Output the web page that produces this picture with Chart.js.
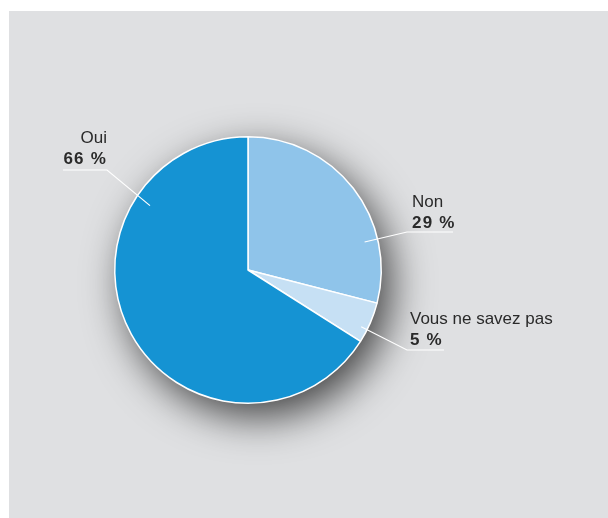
<!DOCTYPE html>
<html>
<head>
<meta charset="utf-8">
<script src="https://cdn.jsdelivr.net/npm/chart.js@4/dist/chart.umd.min.js"></script>
<style>
  html, body { margin: 0; padding: 0; background: #fff; }
  canvas { display: block; }
</style>
</head>
<body>
<canvas id="pie" width="608" height="518"></canvas>
<script>
const categories = ['Non', 'Vous ne savez pas', 'Oui'];
const percents = [29, 5, 66];
const sliceColors = ['#8fc4ea', '#c6e0f4', '#1593d3'];

// label placement: leader start (angle in deg, fraction of radius), elbow, end, text anchor
const labelLayout = [
  { a: -13.5, f: 0.90, elbow: [407, 232], end: [453, 232], tx: 412, ty: 207, align: 'left' },
  { a: 26.6, f: 0.95, elbow: [407, 350], end: [444, 350], tx: 410, ty: 324, align: 'left' },
  { a: -146.7, f: 0.88, elbow: [107, 170], end: [63, 170], tx: 107, ty: 143, align: 'right' }
];

const panel = {
  id: 'panel',
  beforeDraw(chart) {
    const ctx = chart.ctx;
    ctx.save();
    ctx.fillStyle = '#dfe0e2';
    ctx.fillRect(9, 11, chart.width - 9, chart.height - 11);
    ctx.restore();
  },
  beforeDatasetsDraw(chart) {
    // soft drop shadow under the pie
    const arc = chart.getDatasetMeta(0).data[0];
    const ctx = chart.ctx;
    ctx.save();
    ctx.shadowColor = 'rgba(0,0,0,0.7)';
    ctx.shadowBlur = 40;
    ctx.shadowOffsetX = 10;
    ctx.shadowOffsetY = 14;
    ctx.fillStyle = '#888';
    ctx.beginPath();
    ctx.arc(arc.x, arc.y, arc.outerRadius, 0, Math.PI * 2);
    ctx.fill();
    ctx.restore();
  },
  afterDatasetsDraw(chart) {
    const arc = chart.getDatasetMeta(0).data[0];
    const ctx = chart.ctx;
    ctx.save();
    labelLayout.forEach((l, i) => {
      const ang = l.a * Math.PI / 180;
      const sx = arc.x + Math.cos(ang) * arc.outerRadius * l.f;
      const sy = arc.y + Math.sin(ang) * arc.outerRadius * l.f;
      ctx.strokeStyle = '#ffffff';
      ctx.lineWidth = 1.2;
      ctx.beginPath();
      ctx.moveTo(sx, sy);
      ctx.lineTo(l.elbow[0], l.elbow[1]);
      ctx.lineTo(l.end[0], l.end[1]);
      ctx.stroke();

      ctx.fillStyle = '#2a2a2a';
      ctx.textAlign = l.align;
      ctx.textBaseline = 'alphabetic';
      ctx.letterSpacing = '0px';
      ctx.font = '17px "Liberation Sans", Arial, sans-serif';
      ctx.fillText(categories[i], l.tx, l.ty);
      ctx.letterSpacing = '1.2px';
      ctx.font = 'bold 17px "Liberation Sans", Arial, sans-serif';
      ctx.fillText(percents[i] + ' %', l.tx, l.ty + 21);
    });
    ctx.restore();
  }
};

new Chart(document.getElementById('pie'), {
  type: 'pie',
  data: {
    labels: categories,
    datasets: [{
      data: percents,
      backgroundColor: sliceColors,
      borderColor: '#ffffff',
      borderWidth: 1.5
    }]
  },
  options: {
    responsive: false,
    animation: false,
    layout: { padding: { left: 114, right: 226, top: 136, bottom: 114 } },
    plugins: { legend: { display: false }, tooltip: { enabled: false } }
  },
  plugins: [panel]
});
</script>
</body>
</html>
